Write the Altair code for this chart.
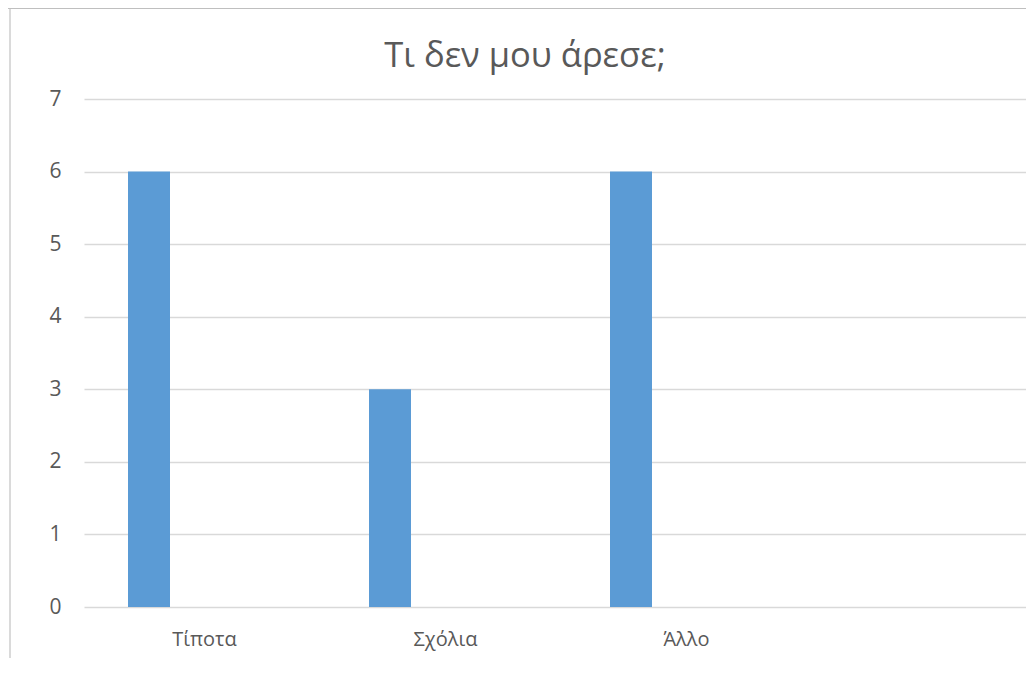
import altair as alt
import pandas as pd

categories = ["Τίποτα", "Σχόλια", "Άλλο", ""]
values = [6, 3, 6, None]
title_text = "Τι δεν μου άρεσε;"

df = pd.DataFrame({"cat": categories, "val": values})
tdf = pd.DataFrame({"t": [title_text]})

FONT = "Open Sans"
TXT = "#595959"
GRID = "#D9D9D9"

bars = alt.Chart(df).mark_bar(color="#5B9BD5", width=42, xOffset=-55.5).encode(
    x=alt.X("cat:N", sort=categories,
            scale=alt.Scale(domain=categories, range=[0, 964], paddingInner=0, paddingOuter=0),
            axis=alt.Axis(title=None, labelAngle=0, ticks=False, domain=False, grid=False,
                          labelFontSize=20, labelColor=TXT, labelFont=FONT, labelPadding=22)),
    y=alt.Y("val:Q", scale=alt.Scale(domain=[0, 7], nice=False),
            axis=alt.Axis(title=None, values=[0, 1, 2, 3, 4, 5, 6, 7], ticks=False, domain=False,
                          grid=True, gridColor=GRID, gridWidth=1.3, labelFontSize=21,
                          labelColor=TXT, labelFont=FONT, labelPadding=23)),
)

title = alt.Chart(tdf).mark_text(fontSize=34.5, color=TXT, font=FONT, align="center",
                                 baseline="alphabetic").encode(
    text="t:N", x=alt.value(441), y=alt.value(-32)
)

left_border = alt.Chart(df).mark_rule(color="#DADADA", strokeWidth=2).encode(
    x=alt.value(-74), y=alt.value(-90), y2=alt.value(559)
)
top_strip = alt.Chart(df).mark_rule(color="#BFBFBF", strokeWidth=1).encode(
    x=alt.value(-76), x2=alt.value(950), y=alt.value(-90.5)
)

chart = alt.layer(bars, title, left_border, top_strip).properties(
    width=942, height=508,
    autosize=alt.AutoSizeParams(type="none"),
    padding={"left": 76, "top": 91, "right": 0, "bottom": 51},
    background="white",
).configure_view(stroke=None)

chart.save("out.html", embed_options={"renderer": "svg", "actions": False})
